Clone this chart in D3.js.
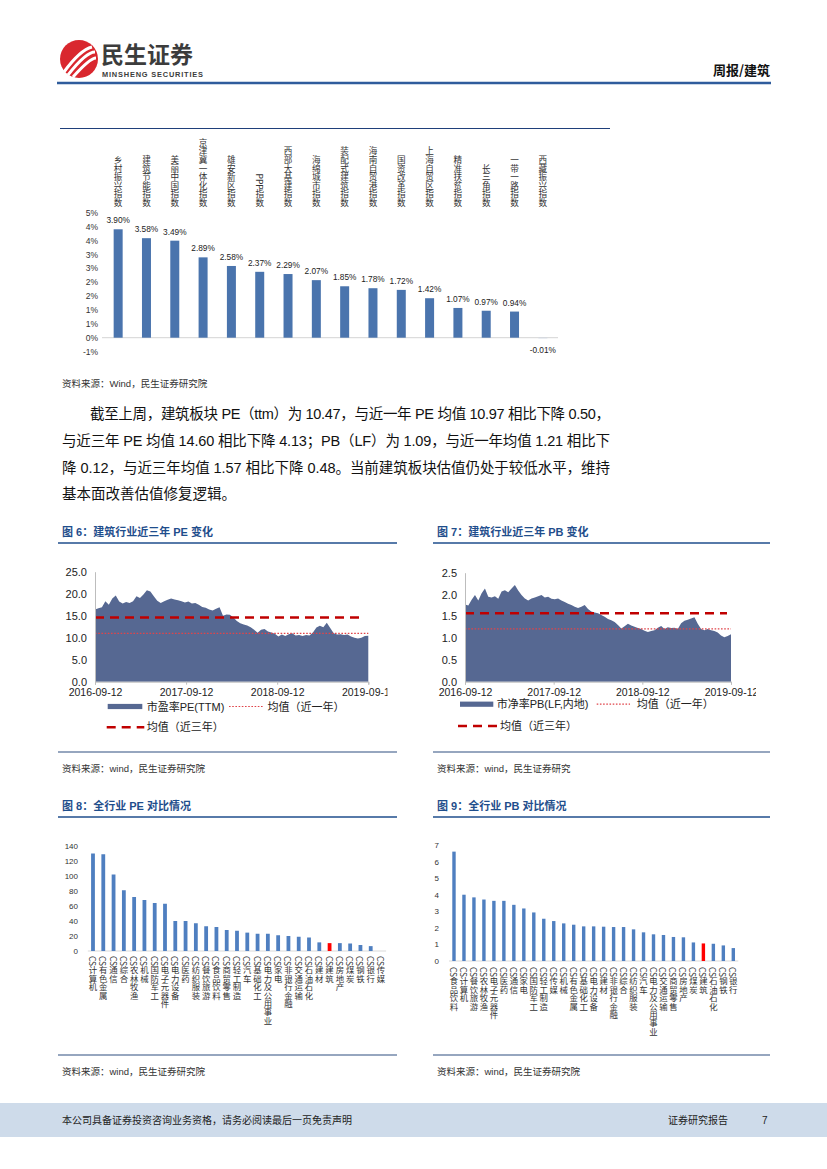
<!DOCTYPE html>
<html><head><meta charset="utf-8">
<script src="https://cdn.jsdelivr.net/npm/d3@7"></script>
<style>
body{margin:0;background:#fff}
svg{display:block}
</style>
</head><body>
<svg id="page" width="827" height="1169" font-family="Liberation Sans, Arial, Noto Sans CJK SC, sans-serif"></svg>
<script>
// ---------------- DATA ----------------
const themeCats = ["乡村振兴指数","建筑节能指数","美丽中国指数","京津冀一体化指数","雄安新区指数","PPP指数","西部大基建指数","海绵城市指数","装配式建筑指数","海南自贸港指数","国资改革指数","上海自贸区指数","精准扶贫指数","长三角指数","一带一路指数","西藏振兴指数"];
const themeVals = [3.90,3.58,3.49,2.89,2.58,2.37,2.29,2.07,1.85,1.78,1.72,1.42,1.07,0.97,0.94,-0.01];
const themeTickVals = [4.5,4,3.5,3,2.5,2,1.5,1,0.5,0,-0.5];
const themeTickLabels = ["5%","4%","4%","3%","3%","2%","2%","1%","1%","0%","-1%"];

const dateStart = "2016-09-12", dateEnd = "2019-09-12";
const dateTicks = ["2016-09-12","2017-09-12","2018-09-12","2019-09-12"];

const peSeries = [16.4,16.7,16.9,18.3,17.5,18.9,19.6,18.2,17.8,18.1,17.9,18.3,19.4,19.0,19.8,20.8,20.5,19.4,18.4,17.9,18.3,18.6,18.9,18.7,18.5,18.3,18.0,18.2,17.8,17.9,17.5,17.0,16.8,16.4,16.2,16.6,16.9,15.0,15.3,15.2,14.6,13.8,13.3,13.0,12.8,12.4,11.8,11.1,11.8,12.0,11.4,11.2,10.9,10.3,10.7,10.4,10.8,11.0,10.5,10.6,10.4,10.6,10.5,11.2,12.3,12.7,12.4,13.4,12.2,11.0,10.7,10.8,10.6,10.7,10.3,10.0,9.8,10.0,10.4,10.47];
const peMean1y = 10.97, peMean3y = 14.60;
const peTicks = [0,5,10,15,20,25];

const pbSeries = [1.77,1.75,1.88,1.99,1.86,2.03,2.14,1.95,1.93,1.96,1.90,2.07,2.10,2.05,2.14,2.22,2.09,1.99,1.91,1.86,1.91,1.93,1.96,1.99,1.93,1.95,1.90,1.89,1.91,1.86,1.83,1.79,1.76,1.72,1.69,1.72,1.76,1.67,1.61,1.59,1.57,1.53,1.49,1.44,1.41,1.37,1.30,1.22,1.27,1.33,1.29,1.26,1.23,1.21,1.17,1.14,1.16,1.18,1.24,1.28,1.21,1.25,1.23,1.24,1.21,1.34,1.40,1.42,1.45,1.48,1.33,1.21,1.18,1.21,1.18,1.16,1.13,1.06,1.02,1.05,1.09];
const pbMean1y = 1.21, pbMean3y = 1.57;
const pbTicks = [0,0.5,1,1.5,2,2.5];

const indPECats = ["CS计算机","CS有色金属","CS通信","CS综合","CS农林牧渔","CS机械","CS国防军工","CS电子元器件","CS电力设备","CS医药","CS纺织服装","CS餐饮旅游","CS食品饮料","CS商贸零售","CS轻工制造","CS汽车","CS基础化工","CS电力及公用事业","CS家电","CS非银行金融","CS交通运输","CS石油石化","CS建材","CS建筑","CS房地产","CS煤炭","CS钢铁","CS银行","CS传媒"];
const indPEVals = [130,129,102,81,72,68,64,63,40,40,37,33,32,28,27,24.5,23,23,21,20,19,18,11.5,10.5,10.5,10,8,6.5,0];
const indPETicks = [0,20,40,60,80,100,120,140];

const indPBCats = ["CS食品饮料","CS计算机","CS餐饮旅游","CS农林牧渔","CS电子元器件","CS医药","CS通信","CS家电","CS国防军工","CS轻工制造","CS传媒","CS机械","CS有色金属","CS基础化工","CS电力设备","CS建材","CS非银行金融","CS综合","CS纺织服装","CS汽车","CS电力及公用事业","CS交通运输","CS商贸零售","CS房地产","CS煤炭","CS建筑","CS石油石化","CS钢铁","CS银行"];
const indPBVals = [6.6,4.0,3.84,3.71,3.63,3.63,3.39,3.17,2.93,2.55,2.41,2.27,2.19,2.09,2.09,2.07,2.05,2.05,1.91,1.73,1.61,1.57,1.45,1.43,1.12,1.06,1.04,0.94,0.78];
const indPBTicks = [0,1,2,3,4,5,6,7];
const highlightCat = "CS建筑";

const paragraph = [
  "截至上周，建筑板块 PE（ttm）为 10.47，与近一年 PE 均值 10.97 相比下降 0.50，",
  "与近三年 PE 均值 14.60 相比下降 4.13；PB（LF）为 1.09，与近一年均值 1.21 相比下",
  "降 0.12，与近三年均值 1.57 相比下降 0.48。当前建筑板块估值仍处于较低水平，维持",
  "基本面改善估值修复逻辑。"
];

// ---------------- STYLE ----------------
const BLUE_T = "#1f4e8c", BAR = "#4a74ad", AREA = "#566892", RED = "#c00000";
const svg = d3.select("#page");
const parse = d3.timeParse("%Y-%m-%d");
const CJK = "Noto Sans CJK SC";

// vertical label: one text element, East-Asian vertical layout (CJK upright, Latin sideways)
function vlabel(g, x, y, str, fs, anchor, fill){
  g.append("text").attr("x",x).attr("y",y)
    .attr("text-anchor",anchor)
    .style("writing-mode","vertical-rl")
    .attr("font-family",CJK).attr("font-size",fs).attr("fill",fill)
    .text(str);
}

// ---------------- HEADER ----------------
const hd = svg.append("g");
hd.append("circle").attr("cx",79).attr("cy",59).attr("r",19).attr("fill","#d9272e");
[[64,72,80,50,92,47],[68,75,86,52,95,52],[73,77,90,58,96,58]].forEach(p=>{
  hd.append("path").attr("d",`M${p[0]},${p[1]} Q${p[2]},${p[3]} ${p[4]},${p[5]}`)
    .attr("stroke","#fff").attr("stroke-width",3).attr("fill","none");
});
hd.append("text").attr("x",101).attr("y",63).attr("font-size",23).attr("font-weight",700)
  .attr("fill","#3c3c3c").attr("font-family",CJK).text("民生证券");
hd.append("text").attr("x",102).attr("y",77).attr("font-size",7.4).attr("font-weight",700)
  .attr("fill","#3c3c3c").attr("textLength",101).text("MINSHENG SECURITIES");
hd.append("text").attr("x",770).attr("y",75).attr("text-anchor","end").attr("font-size",13)
  .attr("font-weight",700).attr("fill","#111").attr("font-family",CJK).text("周报/建筑");
hd.append("line").attr("x1",57).attr("x2",771).attr("y1",83).attr("y2",83).attr("stroke","#2f5c9c").attr("stroke-width",2.5);

// ---------------- TOP THEME CHART ----------------
svg.append("line").attr("x1",60).attr("x2",610).attr("y1",128.5).attr("y2",128.5).attr("stroke","#1f3f7a").attr("stroke-width",1);
(function(){
  const g = svg.append("g");
  const x = d3.scalePoint().domain(themeCats).range([104,557]).padding(0.5);
  const y = d3.scaleLinear().domain([-0.5,4.5]).range([351.6,212.6]);
  g.append("line").attr("x1",102).attr("x2",558).attr("y1",y(0)).attr("y2",y(0)).attr("stroke","#d4d4d4");
  const ax = d3.axisLeft(y).tickValues(themeTickVals).tickSize(0).tickPadding(0)
    .tickFormat((d,i)=>themeTickLabels[i]);
  const ag = g.append("g").attr("transform","translate(98,0)").call(ax);
  ag.select(".domain").remove();
  ag.selectAll("text").attr("font-size",8.5).attr("fill","#333").attr("font-family","Liberation Sans");
  const bw = 9;
  g.selectAll("rect.b").data(themeVals).join("rect")
    .attr("x",(d,i)=>x(themeCats[i])-bw/2).attr("width",bw)
    .attr("y",d=>y(Math.max(0,d))).attr("height",d=>Math.max(0.6,Math.abs(y(d)-y(0))))
    .attr("fill",(d)=> d<0 ? "#c9d3e4" : BAR);
  g.selectAll("text.v").data(themeVals).join("text")
    .attr("x",(d,i)=>x(themeCats[i])).attr("y",d=> d>=0 ? y(d)-6 : y(0)+15)
    .attr("text-anchor","middle").attr("font-size",8.3).attr("fill","#222").attr("font-family","Liberation Sans")
    .text(d=>d.toFixed(2)+"%");
  themeCats.forEach(c=>vlabel(g, x(c), 207, c, 8.6, "end", "#333"));
})();
svg.append("text").attr("x",62).attr("y",387).attr("font-size",9.5).attr("fill","#333").text("资料来源：Wind，民生证券研究院");

// ---------------- PARAGRAPH ----------------
const pl = [[90,419,520],[62,446,548],[62,473,548],[62,499,null]];
paragraph.forEach((t,i)=>{
  const tx = svg.append("text").attr("x",pl[i][0]).attr("y",pl[i][1]).attr("font-size",14.5).attr("fill","#111").text(t);
  if(pl[i][2]) tx.attr("textLength",pl[i][2]).attr("lengthAdjust","spacing");
});

// ---------------- FIGURE TITLES ----------------
function figTitle(x0,x1,y,txt){
  svg.append("text").attr("x",x0+4).attr("y",y).attr("font-size",11).attr("font-weight",700)
    .attr("fill",BLUE_T).text(txt);
  svg.append("line").attr("x1",x0).attr("x2",x1).attr("y1",y+7).attr("y2",y+7).attr("stroke",BLUE_T).attr("stroke-width",1.5);
}
function figSource(x0,x1,yLine,txt){
  svg.append("line").attr("x1",x0).attr("x2",x1).attr("y1",yLine).attr("y2",yLine).attr("stroke","#2f4f80").attr("stroke-width",1.2);
  svg.append("text").attr("x",x0+4).attr("y",yLine+20).attr("font-size",9.5).attr("fill","#333").text(txt);
}
figTitle(58,397,536,"图 6：建筑行业近三年 PE 变化");
figTitle(433,770,536,"图 7：建筑行业近三年 PB 变化");
figSource(58,397,752,"资料来源：wind，民生证券研究院");
figSource(433,770,752,"资料来源：wind，民生证券研究");
figTitle(58,397,810,"图 8：全行业 PE 对比情况");
figTitle(433,770,810,"图 9：全行业 PB 对比情况");
figSource(58,397,1055,"资料来源：wind，民生证券研究院");
figSource(433,770,1055,"资料来源：wind，民生证券研究院");

// ---------------- PE / PB AREA CHARTS ----------------
function valChart(opt){
  const clipId = "clip"+opt.id;
  svg.append("clipPath").attr("id",clipId).append("rect").attr("x",opt.clip[0]).attr("y",550).attr("width",opt.clip[1]-opt.clip[0]).attr("height",200);
  const g = svg.append("g").attr("clip-path",`url(#${clipId})`);
  const t0 = parse(dateStart), t1 = parse(dateEnd);
  const x = d3.scaleTime().domain([t0,t1]).range(opt.xr);
  const y = d3.scaleLinear().domain(opt.yd).range(opt.yr);
  const n = opt.series.length;
  const pts = opt.series.map((v,i)=>({d:new Date(+t0 + (t1-t0)*i/(n-1)), v}));
  g.append("path").datum(pts).attr("fill",AREA)
    .attr("d",d3.area().x(d=>x(d.d)).y0(y(0)).y1(d=>y(d.v)));
  g.append("line").attr("x1",opt.xr[0]).attr("x2",opt.xr[1]).attr("y1",y(opt.m1)).attr("y2",y(opt.m1))
    .attr("stroke","#e0444a").attr("stroke-width",1.2).attr("stroke-dasharray","1.6,1.6");
  g.append("line").attr("x1",opt.xr[0]).attr("x2",opt.xr[1]-4).attr("y1",y(opt.m3)).attr("y2",y(opt.m3))
    .attr("stroke",RED).attr("stroke-width",2.6).attr("stroke-dasharray","9,6");
  const ya = g.append("g").attr("transform",`translate(${opt.xr[0]},0)`)
    .call(d3.axisLeft(y).tickValues(opt.ticks).tickSize(0).tickPadding(8).tickFormat(d3.format(".1f")));
  ya.select(".domain").attr("stroke","#bdbdbd");
  ya.selectAll("text").attr("font-size",11).attr("fill","#222").attr("font-family","Liberation Sans");
  const xa = g.append("g").attr("transform",`translate(0,${opt.yr[0]})`)
    .call(d3.axisBottom(x).tickValues(dateTicks.map(parse)).tickSize(3).tickPadding(4).tickFormat(d3.timeFormat("%Y-%m-%d")));
  xa.select(".domain").attr("stroke","#bdbdbd");
  xa.selectAll("line").attr("stroke","#bdbdbd");
  xa.selectAll("text").attr("font-size",10.5).attr("fill","#222").attr("font-family","Liberation Sans");
  const L = opt.leg;
  const lg = svg.append("g");
  lg.append("rect").attr("x",L.sw[0]).attr("y",L.sw[2]-2.6).attr("width",L.sw[1]-L.sw[0]).attr("height",5.2).attr("fill",AREA);
  lg.append("text").attr("x",L.t1).attr("y",L.sw[2]+4).attr("font-size",11).attr("fill","#222").text(opt.name);
  lg.append("line").attr("x1",L.dot[0]).attr("x2",L.dot[1]).attr("y1",L.sw[2]).attr("y2",L.sw[2])
    .attr("stroke","#e0444a").attr("stroke-width",1.2).attr("stroke-dasharray","1.6,1.6");
  lg.append("text").attr("x",L.t2).attr("y",L.sw[2]+4).attr("font-size",11).attr("fill","#222").text("均值（近一年）");
  lg.append("line").attr("x1",L.dash[0]).attr("x2",L.dash[1]).attr("y1",L.dash[2]).attr("y2",L.dash[2])
    .attr("stroke",RED).attr("stroke-width",2.6).attr("stroke-dasharray","9,6");
  lg.append("text").attr("x",L.t3).attr("y",L.dash[2]+4).attr("font-size",11).attr("fill","#222").text("均值（近三年）");
}
valChart({id:"pe",series:peSeries,m1:peMean1y,m3:peMean3y,ticks:peTicks,yd:[0,25],
  xr:[95,368.3],yr:[681.7,571.7],clip:[55,387.5],name:"市盈率PE(TTM)",
  leg:{sw:[107.7,142.3,706.5],t1:146.7,dot:[229,263],t2:267.5,dash:[106.7,144.3,727.3],t3:146.7}});
valChart({id:"pb",series:pbSeries,m1:pbMean1y,m3:pbMean3y,ticks:pbTicks,yd:[0,2.5],
  xr:[465,731],yr:[681.7,572.7],clip:[430,756],name:"市净率PB(LF,内地)",
  leg:{sw:[460,493.3,704.2],t1:496.7,dot:[596.7,630],t2:636.7,dash:[458,497,726],t3:500}});

// ---------------- INDUSTRY BAR CHARTS ----------------
function indChart(opt){
  const g = svg.append("g");
  const x = d3.scalePoint().domain(opt.cats).range(opt.xr).padding(0.5);
  const y = d3.scaleLinear().domain(opt.yd).range(opt.yr);
  g.append("line").attr("x1",opt.xr[0]).attr("x2",opt.xr[1]).attr("y1",y(0)).attr("y2",y(0)).attr("stroke","#d9d9d9");
  const ya = g.append("g").attr("transform",`translate(${opt.ax},0)`)
    .call(d3.axisLeft(y).tickValues(opt.ticks).tickSize(0).tickPadding(0).tickFormat(d3.format("d")));
  ya.select(".domain").remove();
  ya.selectAll("text").attr("font-size",8).attr("fill","#333").attr("font-family","Liberation Sans");
  g.selectAll("rect").data(opt.vals).join("rect")
    .attr("x",(d,i)=>x(opt.cats[i])-opt.bw/2).attr("width",opt.bw)
    .attr("y",d=>y(d)).attr("height",d=>y(0)-y(d))
    .attr("fill",(d,i)=>opt.cats[i]===highlightCat ? "#ff0000" : "#4f7fc0");
  opt.cats.forEach(c=>vlabel(g, x(c), opt.labY, c, 8.4, "start", "#333"));
}
indChart({cats:indPECats,vals:indPEVals,ticks:indPETicks,yd:[0,140],yr:[951,846],
  xr:[87.85,386.15],ax:78,bw:3.8,labY:956});
indChart({cats:indPBCats,vals:indPBVals,ticks:indPBTicks,yd:[0,7],yr:[961,845],
  xr:[449,738.3],ax:439,bw:3.4,labY:967});

// ---------------- FOOTER ----------------
svg.append("rect").attr("x",0).attr("y",1103).attr("width",827).attr("height",34).attr("fill","#cedbea");
svg.append("text").attr("x",62).attr("y",1124).attr("font-size",10).attr("fill","#222").text("本公司具备证券投资咨询业务资格，请务必阅读最后一页免责声明");
svg.append("text").attr("x",668).attr("y",1124).attr("font-size",10).attr("fill","#222").text("证券研究报告");
svg.append("text").attr("x",762).attr("y",1124).attr("font-size",10).attr("fill","#222").text("7");
</script>
</body></html>
